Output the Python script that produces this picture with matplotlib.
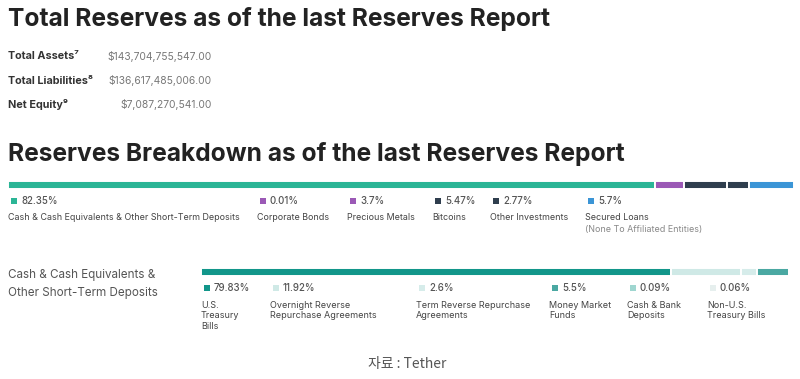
import matplotlib
matplotlib.use("Agg")
import matplotlib.pyplot as plt
import numpy as np

# ---------------- data ----------------
summary_labels = ["Total Assets\u2077", "Total Liabilities\u2078", "Net Equity\u2079"]
summary_values = ["$143,704,755,547.00", "$136,617,485,006.00", "$7,087,270,541.00"]

top_cats = ["Cash & Cash Equivalents & Other Short-Term Deposits", "Corporate Bonds",
            "Precious Metals", "Bitcoins", "Other Investments", "Secured Loans"]
top_sub = ["", "", "", "", "", "(None To Affiliated Entities)"]
top_vals = [82.35, 0.01, 3.7, 5.47, 2.77, 5.7]
top_pct = ["82.35%", "0.01%", "3.7%", "5.47%", "2.77%", "5.7%"]
top_colors = ["#2bb596", "#9b59b6", "#9b59b6", "#2f3e4e", "#2f3e4e", "#3b95d6"]

cash_cats = ["U.S.\nTreasury\nBills", "Overnight Reverse\nRepurchase Agreements",
             "Term Reverse Repurchase\nAgreements", "Money Market\nFunds",
             "Cash & Bank\nDeposits", "Non-U.S.\nTreasury Bills"]
cash_vals = [79.83, 11.92, 2.6, 5.5, 0.09, 0.06]
cash_pct = ["79.83%", "11.92%", "2.6%", "5.5%", "0.09%", "0.06%"]
cash_colors = ["#12968a", "#cfe9e6", "#d6ecea", "#4aa8a2", "#9fd6d0", "#e6efee"]

# ---------------- layout ----------------
W, H = 800, 379
fig = plt.figure(figsize=(W / 100, H / 100), dpi=100)
fig.patch.set_facecolor("white")
FONT = ["Inter", "DejaVu Sans"]


def T(x, y, s, **kw):
    kw.setdefault("family", FONT)
    return fig.text(x / W, 1 - y / H, s, **kw)


def bar(x0, y0, w, h, vals, colors):
    ax = fig.add_axes([x0 / W, 1 - (y0 + h) / H, w / W, h / H])
    left = np.concatenate([[0], np.cumsum(vals)[:-1]])
    ax.barh([0] * len(vals), vals, left=left, height=1.0, color=colors,
            edgecolor="white", linewidth=1.4)
    ax.set_xlim(0, 100)
    ax.set_ylim(-0.5, 0.5)
    ax.axis("off")
    return ax


def square(x, y, c, s=6):
    ax = fig.add_axes([x / W, 1 - (y + s / 2) / H, s / W, s / H])
    ax.set_facecolor(c)
    ax.set_xticks([]); ax.set_yticks([])
    for sp in ax.spines.values():
        sp.set_visible(False)


# titles
T(8, 19, "Total Reserves as of the last Reserves Report", fontsize=17.7,
  fontweight="bold", color="#222222", va="center")
T(8, 154, "Reserves Breakdown as of the last Reserves Report", fontsize=17.7,
  fontweight="bold", color="#222222", va="center")

# summary
for i, (lab, val) in enumerate(zip(summary_labels, summary_values)):
    y = 56 + i * 24.5
    T(8, y, lab, fontsize=7.8, fontweight="bold", color="#333333", va="center")
    T(212, y, val, fontsize=7.4, color="#777777", va="center", ha="right")

# top breakdown bar
bar(8, 180.5, 786, 8, top_vals, top_colors)
top_x = [8, 257, 347, 432, 490, 585]
for x, p, c, lab, sub in zip(top_x, top_pct, top_colors, top_cats, top_sub):
    square(x + 3, 201, c)
    T(x + 13, 201, p, fontsize=7, color="#555555", va="center", fontweight="medium")
    T(x, 218, lab, fontsize=6.45, color="#444444", va="center")
    if sub:
        T(x, 229.5, sub, fontsize=6.45, color="#888888", va="center")

# cash breakdown
T(8, 275, "Cash & Cash Equivalents &", fontsize=8.4, color="#555555", va="center")
T(8, 293, "Other Short-Term Deposits", fontsize=8.4, color="#555555", va="center")
bar(201, 267.5, 589, 8, cash_vals, cash_colors)
cash_x = [201, 270, 416, 549, 627, 707]
for x, p, c, lab in zip(cash_x, cash_pct, cash_colors, cash_cats):
    square(x + 3, 288, c)
    T(x + 13, 288, p, fontsize=7, color="#555555", va="center", fontweight="medium")
    T(x, 300.5, lab, fontsize=6.5, color="#444444", va="top", linespacing=1.28)

# source
T(407, 364, "\uc790\ub8cc : Tether", fontsize=10, color="#555555", va="center",
  ha="center", family=["Noto Sans CJK KR", "DejaVu Sans"])

fig.savefig("out.png", dpi=100, facecolor="white")
